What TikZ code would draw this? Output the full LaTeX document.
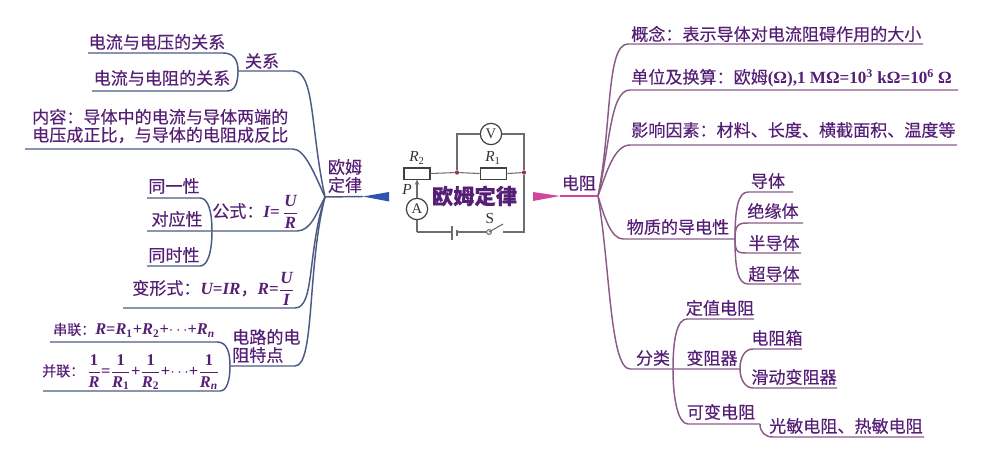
\documentclass[tikz,border=0pt]{standalone}
\usepackage{fontspec}
\setmainfont{Liberation Serif}
\newfontfamily\cjk[FakeBold=0.25]{Noto Sans CJK SC}
\usetikzlibrary{arrows.meta}
\newcommand\myfrac[2]{$\displaystyle\frac{\mbox{#1}}{\mbox{#2}}$}
\newcommand\vi[1]{{\rmfamily\bfseries\itshape #1}}
\newcommand\lat[1]{{\rmfamily\bfseries #1}}
\newcommand\smallcjk[1]{{\fontsize{10.5}{13}\selectfont #1}}
\definecolor{txt}{HTML}{561F76}
\definecolor{lline}{HTML}{4C5A84}
\definecolor{rline}{HTML}{8A5A88}
\definecolor{wirec}{HTML}{6E6E72}
\definecolor{blu}{HTML}{2C55B0}
\definecolor{pnk}{HTML}{D4449C}
\definecolor{dotc}{HTML}{A03050}
\tikzset{
 lab/.style={font=\cjk\fontsize{12.8}{13.5}\selectfont,text=txt,inner sep=0pt,align=left},
 labm/.style={lab,font=\cjk\fontsize{12.3}{13.5}\selectfont},
 lb/.style={draw=lline,line width=1.1pt},
 rb/.style={draw=rline,line width=1.1pt},
 wire/.style={draw=wirec,line width=0.8pt},
 part/.style={draw=black!75,line width=0.8pt,fill=white,inner sep=0pt},
 meter/.style={circle,draw=black!75,line width=0.9pt,fill=white,minimum size=16pt,inner sep=0pt,font=\fontsize{11}{12}\selectfont,text=black!80},
 cl/.style={inner sep=0pt,font=\fontsize{11.5}{12}\selectfont,text=black!80},
 jun/.style={circle,fill=dotc,inner sep=0pt,minimum size=3.2pt}
}
\begin{document}
\begin{tikzpicture}[x=0.75pt,y=-0.75pt]
\useasboundingbox (0,0) rectangle (983,464);
% ---------- hubs
\coordinate (hl) at (325,197);
\coordinate (hr) at (598,196);
% ---------- left labels
\node[lab] (a1) at (157,42) {电流与电压的关系};
\node[lab] (a2) at (162,78) {电流与电阻的关系};
\node[lab] (a0) at (262,61) {关系};
\node[lab,anchor=west] (b0) at (32,126) {内容：导体中的电流与导体两端的\\电压成正比，与导体的电阻成反比};
\node[lab,align=center] (root) at (345,176) {欧姆\\定律};
\node[lab] (c1) at (174,186) {同一性};
\node[lab] (c2) at (177,219) {对应性};
\node[lab] (c3) at (174,255) {同时性};
\node[lab,anchor=west] (c0) at (212,212) {公式：\vi{I}\lat{=}\,\myfrac{\vi{U}}{\vi{R}}};
\node[lab,anchor=west] (d0) at (132,289) {变形式：\vi{U}\lat{=}\vi{IR}，\vi{R}\lat{=}\myfrac{\vi{U}}{\vi{I}}};
\node[labm,anchor=west] (e1) at (53,330) {\smallcjk{串联：}\vi{R}\lat{=}\vi{R}\lat{\textsubscript{1}+}\vi{R}\lat{\textsubscript{2}+}$\cdots$\lat{+}\vi{R}\textsubscript{\vi{n}}};
\node[labm,anchor=west] (e2) at (42,372) {\smallcjk{并联：}\,\myfrac{\lat{1}}{\vi{R}}\lat{=}\myfrac{\lat{1}}{\vi{R}\lat{\textsubscript{1}}}\lat{+}\myfrac{\lat{1}}{\vi{R}\lat{\textsubscript{2}}}\lat{+}$\cdots$\lat{+}\myfrac{\lat{1}}{\vi{R}\textsubscript{\vi{n}}}};
\node[lab,anchor=west] (e0) at (232,346) {电路的电\\阻特点};
% ---------- left connectors
\coordinate (a0l) at (238,71); \coordinate (a0r) at (293,71);
\coordinate (a1l) at (88,53);  \coordinate (a1r) at (223,53);
\coordinate (a2l) at (92,91);  \coordinate (a2r) at (227,91);
\coordinate (b0l) at (25,149); \coordinate (b0r) at (293,149);
\coordinate (c0l) at (147,231);\coordinate (c0r) at (297,231);
\coordinate (c0j) at (212,231);
\coordinate (c1l) at (147,198);\coordinate (c1r) at (200,198);
\coordinate (c3l) at (147,266);\coordinate (c3r) at (200,266);
\coordinate (d0l) at (123,308);\coordinate (d0r) at (295,308);
\coordinate (e0l) at (230,366);\coordinate (e0r) at (295,366);
\coordinate (e1l) at (50,342); \coordinate (e1r) at (217,342);
\coordinate (e2l) at (43,391); \coordinate (e2r) at (220,391);
\draw[lb] (a0l) -- (a0r) .. controls +(22,0) and +(-15,-70) .. (hl);
\draw[lb] (a1l) -- (a1r) .. controls +(10,0) and +(0,-12) .. (a0l);
\draw[lb] (a2l) -- (a2r) .. controls +(8,0) and +(0,12) .. (a0l);
\draw[lb] (b0l) -- (b0r) .. controls +(12,0) and +(-10,-22) .. (hl);
\draw[lb] (c0l) -- (c0r) .. controls +(14,0) and +(-8,15) .. (hl);
\draw[lb] (c1l) -- (c1r) .. controls +(8,0) and +(0,-20) .. (c0j);
\draw[lb] (c3l) -- (c3r) .. controls +(8,0) and +(0,20) .. (c0j);
\draw[lb] (d0l) -- (d0r) .. controls +(20,0) and +(-18,55) .. (hl);
\draw[lb] (e0l) -- (e0r) .. controls +(20,0) and +(-18,70) .. (hl);
\draw[lb] (e1l) -- (e1r) .. controls +(10,0) and +(0,-14) .. (e0l);
\draw[lb] (e2l) -- (e2r) .. controls +(7,0) and +(0,14) .. (e0l);
\coordinate (tl1) at (363,196.5); \coordinate (tl2) at (389,192); \coordinate (tl3) at (389,201.5);
\draw[lb] (hl) -- (tl1);
\fill[blu] (tl1) -- (tl2) -- (tl3) -- cycle;
% ---------- circuit
\node[part,minimum height=8.3pt,minimum width=19.5pt] (r2) at (417,173.5) {};
\node[part,minimum height=8.3pt,minimum width=20pt] (r1) at (493.5,173.5) {};
\node[meter] (vm) at (491,134) {V};
\node[meter] (am) at (417,209) {A};
\node[jun] (j1) at (457,172.5) {};
\node[jun] (j2) at (524,172.5) {};
\coordinate (tl) at (457,134); \coordinate (tr) at (524,134);
\coordinate (br) at (524,232); \coordinate (bl) at (417,232);
\coordinate (s1) at (489,232); \coordinate (s2) at (503,232); \coordinate (s3) at (503,224);
\coordinate (ba) at (452,232); \coordinate (bb) at (457,232);
\coordinate (ba1) at (452,225.5); \coordinate (ba2) at (452,240);
\coordinate (bb1) at (457,229.5); \coordinate (bb2) at (457,236);
\draw[wire] (r2.east) -- (j1) -- (r1.west) (r1.east) -- (j2);
\draw[wire] (j1) -- (tl) -- (vm);
\draw[wire] (vm) -- (tr) -- (j2) -- (br) -- (s2);
\draw[wire] (bl) -- (ba) (bb) -- (s1);
\draw[wire] (am) -- (bl);
\draw[wire,-{Stealth[length=4pt,width=3.5pt]}] (am) -- (r2.south);
\draw[wire,line width=1pt] (ba1) -- (ba2) (bb1) -- (bb2);
\draw[wire,fill=white] (s1) circle (1.8pt);
\draw[wire] (s1) -- (s3);
\node[cl] (r2l) at (417,158) {\textit{R}\textsubscript{2}};
\node[cl] (r1l) at (493,158) {\textit{R}\textsubscript{1}};
\node[cl] (pl) at (407,189) {\textit{P}};
\node[cl] (sl) at (490,218) {S};
\node[font=\cjk\bfseries\fontsize{16}{18}\selectfont,text=txt,inner sep=0pt] (title) at (474.5,196) {欧姆定律};
% ---------- right labels
\node[lab] (rroot) at (579,183) {电阻};
\node[lab,anchor=west] (f1) at (631,34) {概念：表示导体对电流阻碍作用的大小};
\node[lab,anchor=west] (f2) at (631,78) {单位及换算：欧姆\lat{(Ω),1 MΩ=10\textsuperscript{3} kΩ=10\textsuperscript{6} Ω}};
\node[lab,anchor=west] (f3) at (631,130) {影响因素：材料、长度、横截面积、温度等};
\node[lab] (g0) at (678,227) {物质的导电性};
\node[lab] (g1) at (768,181) {导体};
\node[lab] (g2) at (773,211) {绝缘体};
\node[lab] (g3) at (774,243) {半导体};
\node[lab] (g4) at (774,274) {超导体};
\node[lab] (h0) at (653,358) {分类};
\node[lab] (h1) at (720,308) {定值电阻};
\node[lab] (h2) at (712,358) {变阻器};
\node[lab] (h3) at (777,338) {电阻箱};
\node[lab] (h4) at (794,377) {滑动变阻器};
\node[lab] (h5) at (721,412) {可变电阻};
\node[lab] (h6) at (846,426) {光敏电阻、热敏电阻};
% ---------- right connectors
\coordinate (f1l) at (628,44);  \coordinate (f1r) at (923,44);
\coordinate (f2l) at (630,90);  \coordinate (f2r) at (958,90);
\coordinate (f3l) at (630,145); \coordinate (f3r) at (957,145);
\coordinate (g0l) at (623,239); \coordinate (g0r) at (735,239);
\coordinate (g1l) at (748,192); \coordinate (g1r) at (793,192);
\coordinate (g2l) at (748,223); \coordinate (g2r) at (803,223);
\coordinate (g3l) at (748,253); \coordinate (g3r) at (801,253);
\coordinate (g4l) at (748,284); \coordinate (g4r) at (801,284);
\coordinate (h0l) at (630,369); \coordinate (h0r) at (740,369);
\coordinate (h0j) at (673,369);
\coordinate (h1l) at (687,319); \coordinate (h1r) at (754,319);
\coordinate (h3l) at (753,349); \coordinate (h3r) at (802,349);
\coordinate (h4l) at (753,388); \coordinate (h4r) at (837,388);
\coordinate (h5l) at (688,424); \coordinate (h5r) at (760,424);
\coordinate (h6l) at (773,437); \coordinate (h6r) at (924,437);
\draw[rb] (f1r) -- (f1l) .. controls +(-22,0) and +(14,-70) .. (hr);
\draw[rb] (f2r) -- (f2l) .. controls +(-20,0) and +(12,-50) .. (hr);
\draw[rb] (f3r) -- (f3l) .. controls +(-16,0) and +(8,-22) .. (hr);
\draw[rb] (g0r) -- (g0l) .. controls +(-12,0) and +(6,20) .. (hr);
\draw[rb] (h0r) -- (h0l) .. controls +(-20,0) and +(12,70) .. (hr);
\draw[rb] (g1r) -- (g1l) .. controls +(-10,0) and +(0,-30) .. (g0r);
\draw[rb] (g2r) -- (g2l) .. controls +(-10,0) and +(0,-14) .. (g0r);
\draw[rb] (g3r) -- (g3l) .. controls +(-10,0) and +(0,14) .. (g0r);
\draw[rb] (g4r) -- (g4l) .. controls +(-10,0) and +(0,30) .. (g0r);
\draw[rb] (h1r) -- (h1l) .. controls +(-10,0) and +(0,-30) .. (h0j);
\draw[rb] (h3r) -- (h3l) .. controls +(-8,0) and +(0,-12) .. (h0r);
\draw[rb] (h4r) -- (h4l) .. controls +(-8,0) and +(0,10) .. (h0r);
\draw[rb] (h5r) -- (h5l) .. controls +(-10,0) and +(0,30) .. (h0j);
\draw[rb] (h6r) -- (h6l) .. controls +(-8,0) and +(0,8) .. (h5r);
\coordinate (tr1) at (560,196); \coordinate (tr2) at (533,192); \coordinate (tr3) at (533,201);
\draw[rb,draw=pnk] (tr1) -- (hr);
\fill[pnk] (tr1) -- (tr2) -- (tr3) -- cycle;
\end{tikzpicture}
\end{document}
